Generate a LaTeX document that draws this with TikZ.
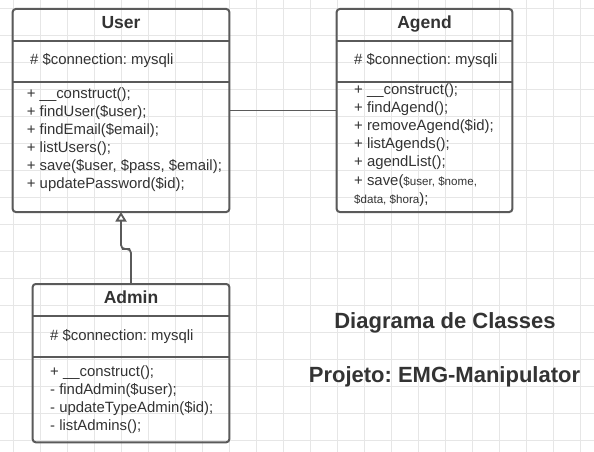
\documentclass[tikz,border=0pt]{standalone}
\usepackage{fontspec}
\setmainfont{Liberation Sans}
\usetikzlibrary{arrows.meta}
\definecolor{gridc}{HTML}{E6E6E6}
\definecolor{linec}{HTML}{5A5A5A}
\definecolor{txtc}{HTML}{333333}
\frenchspacing
\begin{document}
\frenchspacing
\begin{tikzpicture}[x=1pt,y=-1pt,
 classbox/.style={draw=linec, line width=2pt, rounded corners=3pt, inner sep=0pt, outer sep=0pt},
 sepline/.style={draw=linec, line width=2pt},
 ctitle/.style={font=\fontsize{17.5}{20}\selectfont\bfseries, text=txtc, inner sep=0pt, anchor=base},
 member/.style={font=\fontsize{14.9}{18}\selectfont, text=txtc, anchor=base west, inner sep=0pt},
 heading/.style={font=\fontsize{22}{26}\selectfont\bfseries, text=txtc, inner sep=0pt, anchor=base},
 gridline/.style={draw=gridc, line width=0.9pt},
 conn/.style={draw=linec, line width=1.8pt},
]
\fill[white] (0,0) rectangle (594,452);
\useasboundingbox (0,0) rectangle (594,452);
\foreach \k in {0,...,21} \draw[gridline] (13.7+27*\k,0) -- (13.7+27*\k,452);
\foreach \k in {0,...,16} \draw[gridline] (0,8.3+27*\k) -- (594,8.3+27*\k);

% ---------- User ----------
\node[classbox, minimum width=216.6pt, minimum height=203pt] (user) at (121,110.5) {};
\draw[sepline] ([yshift=-32pt]user.north west) -- ([yshift=-32pt]user.north east);
\draw[sepline] ([yshift=-73.3pt]user.north west) -- ([yshift=-73.3pt]user.north east);
\node[ctitle] (usert) at (121,29) {User};
\node[member] (usera) at (30,65) {\# \$connection: mysqli};
\foreach \t [count=\i] in {{+ \_\_construct();},{+ findUser(\$user);},{+ findEmail(\$email);},{+ listUsers();},{+ save(\$user, \$pass, \$email);},{+ updatePassword(\$id);}}
  \node[member] (um\i) at (26.7,98.5+17.9*\i-17.9) {\t};

% ---------- Agend ----------
\node[classbox, minimum width=175.6pt, minimum height=203pt] (agend) at (424.5,110.5) {};
\draw[sepline] ([yshift=-32pt]agend.north west) -- ([yshift=-32pt]agend.north east);
\draw[sepline] ([yshift=-73.3pt]agend.north west) -- ([yshift=-73.3pt]agend.north east);
\node[ctitle] (agendt) at (424.5,29) {Agend};
\node[member] (agenda) at (354,65) {\# \$connection: mysqli};
\foreach \t [count=\i] in {{+ \_\_construct();},{+ findAgend();},{+ removeAgend(\$id);},{+ listAgends();},{+ agendList();}}
  \node[member] (am\i) at (354,94.3+18.15*\i-18.15) {\t};
\node[member] (am6) at (354,94.3+18.15*5) {+ save({\fontsize{11.6}{14}\selectfont\$user, \$nome,}};
\node[member] (am7) at (354,94.3+18.15*6) {{\fontsize{11.6}{14}\selectfont\$data, \$hora});};

% ---------- Admin ----------
\node[classbox, minimum width=196.6pt, minimum height=158.3pt] (admin) at (131,363.15) {};
\draw[sepline] ([yshift=-31.7pt]admin.north west) -- ([yshift=-31.7pt]admin.north east);
\draw[sepline] ([yshift=-72.7pt]admin.north west) -- ([yshift=-72.7pt]admin.north east);
\node[ctitle] (admint) at (131,303.6) {Admin};
\node[member] (admina) at (50,340) {\# \$connection: mysqli};
\foreach \t [count=\i] in {{+ \_\_construct();},{- findAdmin(\$user);},{- updateTypeAdmin(\$id);},{- listAdmins();}}
  \node[member] (dm\i) at (50,376+18.1*\i-18.1) {\t};

% ---------- connectors ----------
\draw[conn] (user.east) -- (agend.west);
\coordinate (jog) at (126,249);
\draw[conn, rounded corners=4pt, -{Triangle[open, length=9.5pt, width=11pt, fill=white]}] (admin.north) |- (jog) -| (user.south);

% ---------- headings ----------
\node[heading] (h1) at (445,328) {Diagrama de Classes};
\node[heading] (h2) at (444.5,382.5) {Projeto: EMG-Manipulator};
\end{tikzpicture}
\end{document}
